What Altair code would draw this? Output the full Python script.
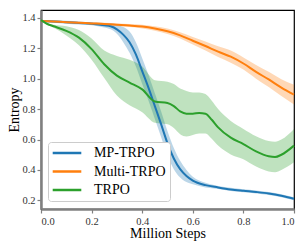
import altair as alt
import pandas as pd

# ---- data ----
SERIES = ["MP-TRPO", "Multi-TRPO", "TRPO"]
COLORS = ["#1f77b4", "#ff7f0e", "#2ca02c"]

X_MP = [0, 0.05, 0.1, 0.15, 0.2, 0.25, 0.275, 0.3, 0.325, 0.35, 0.375, 0.4, 0.425,
        0.45, 0.475, 0.5, 0.525, 0.55, 0.575, 0.6, 0.65, 0.7, 0.75, 0.8, 0.85, 0.9, 0.95, 1.0]
MP_MEAN = [1.38, 1.376, 1.372, 1.367, 1.362, 1.352, 1.345, 1.325, 1.29, 1.24, 1.16, 1.05, 0.94,
           0.82, 0.70, 0.575, 0.475, 0.405, 0.36, 0.33, 0.30, 0.285, 0.272, 0.263, 0.255, 0.245, 0.23, 0.21]
MP_SPREAD = [0.005, 0.008, 0.01, 0.01, 0.01, 0.015, 0.02, 0.03, 0.05, 0.07, 0.08, 0.085, 0.085,
             0.085, 0.085, 0.08, 0.07, 0.055, 0.04, 0.025, 0.015, 0.01, 0.01, 0.01, 0.01, 0.01, 0.01, 0.01]

X_MULTI = [0, 0.05, 0.1, 0.15, 0.2, 0.25, 0.3, 0.35, 0.4, 0.45, 0.5, 0.55, 0.6, 0.65,
           0.7, 0.75, 0.8, 0.85, 0.9, 0.95, 1.0]
MULTI_MEAN = [1.38, 1.376, 1.372, 1.368, 1.364, 1.36, 1.355, 1.35, 1.343, 1.33, 1.312, 1.285,
              1.25, 1.215, 1.178, 1.145, 1.10, 1.045, 0.995, 0.942, 0.895]
MULTI_SPREAD = [0.005, 0.005, 0.006, 0.006, 0.007, 0.008, 0.009, 0.01, 0.012, 0.015, 0.018, 0.02,
                0.025, 0.03, 0.035, 0.04, 0.04, 0.045, 0.05, 0.055, 0.065]

X_TRPO = [0, 0.025, 0.05, 0.1, 0.15, 0.2, 0.25, 0.3, 0.35, 0.4, 0.45, 0.5, 0.525, 0.55, 0.575,
          0.6, 0.625, 0.65, 0.675, 0.7, 0.75, 0.8, 0.85, 0.9, 0.925, 0.95, 1.0]
TRPO_MEAN = [1.385, 1.36, 1.345, 1.315, 1.27, 1.195, 1.095, 1.02, 0.975, 0.93, 0.85, 0.84, 0.82,
             0.785, 0.77, 0.77, 0.775, 0.77, 0.73, 0.68, 0.612, 0.57, 0.522, 0.49, 0.485, 0.50, 0.56]
TRPO_SPREAD = [0.0, 0.005, 0.01, 0.03, 0.05, 0.07, 0.09, 0.13, 0.15, 0.15, 0.14, 0.14, 0.145, 0.15,
               0.15, 0.14, 0.135, 0.13, 0.125, 0.12, 0.11, 0.1, 0.1, 0.1, 0.1, 0.1, 0.11]

X_TICKS = [0.0, 0.2, 0.4, 0.6, 0.8, 1.0]
Y_TICKS = [0.2, 0.4, 0.6, 0.8, 1.0, 1.2, 1.4]

rows = []
for name, xs, ms, ss in [
    ("MP-TRPO", X_MP, MP_MEAN, MP_SPREAD),
    ("Multi-TRPO", X_MULTI, MULTI_MEAN, MULTI_SPREAD),
    ("TRPO", X_TRPO, TRPO_MEAN, TRPO_SPREAD),
]:
    for i, (x, m, s) in enumerate(zip(xs, ms, ss)):
        rows.append({"series": name, "step": x, "mean": m, "lo": m - s, "hi": m + s, "i": i})
df = pd.DataFrame(rows)

FONT = "Liberation Serif"

xscale = alt.Scale(domain=[0, 1], nice=False, zero=False)
yscale = alt.Scale(domain=[0.143, 1.452], nice=False, zero=False)

xaxis = alt.Axis(values=X_TICKS, format=".1f", title="Million Steps", grid=False,
                 titleX=126.5, titleY=28.5, titleBaseline="alphabetic", titleAlign="center",
                 labelPadding=3, tickSize=4, labelOverlap=False)
yaxis = alt.Axis(values=Y_TICKS, format=".1f", title="Entropy", grid=False,
                 titleX=-27, titleY=99.5, titleAngle=270, titleAlign="center",
                 titleBaseline="middle", labelPadding=2, tickSize=4, labelOverlap=False)

base = alt.Chart(df)

bands = base.mark_area(opacity=0.3, interpolate="monotone").encode(
    x=alt.X("step:Q", scale=xscale, axis=xaxis),
    y=alt.Y("lo:Q", scale=yscale, axis=yaxis),
    y2=alt.Y2("hi:Q"),
    color=alt.Color("series:N", scale=alt.Scale(domain=SERIES, range=COLORS), legend=None),
)

lines = base.mark_line(strokeWidth=2, interpolate="monotone").encode(
    x=alt.X("step:Q", scale=xscale, axis=xaxis),
    y=alt.Y("mean:Q", scale=yscale, axis=yaxis),
    color=alt.Color(
        "series:N",
        scale=alt.Scale(domain=SERIES, range=COLORS),
        sort=SERIES,
        legend=alt.Legend(
            title=None, orient="none", legendX=7, legendY=132,
            symbolType="M-2.6,0H2.6", symbolSize=121, symbolStrokeWidth=2.5,
            symbolOffset=8,
            labelFont=FONT, labelFontSize=14, labelColor="#000000", labelOffset=20,
            padding=4, rowPadding=4.5,
            fillColor="white", strokeColor="#cccccc", cornerRadius=3,
        ),
    ),
)

chart = alt.layer(bands, lines).resolve_scale(color="independent").properties(
    width=253, height=199,
    autosize=alt.AutoSizeParams(type="none"),
    padding={"left": 33, "top": 2, "right": 6, "bottom": 32},
).configure_view(
    stroke="#000000", strokeWidth=1.2
).configure_axis(
    labelFont=FONT, labelFontSize=10.5, labelColor="#333333",
    titleFont=FONT, titleFontSize=14, titleFontWeight="normal", titleColor="#000000",
    domainColor="#808080", domainWidth=2.5, tickColor="#808080", tickWidth=1.2,
    zindex=1,
)

chart.save("out.html", embed_options={"renderer": "svg", "actions": False})
